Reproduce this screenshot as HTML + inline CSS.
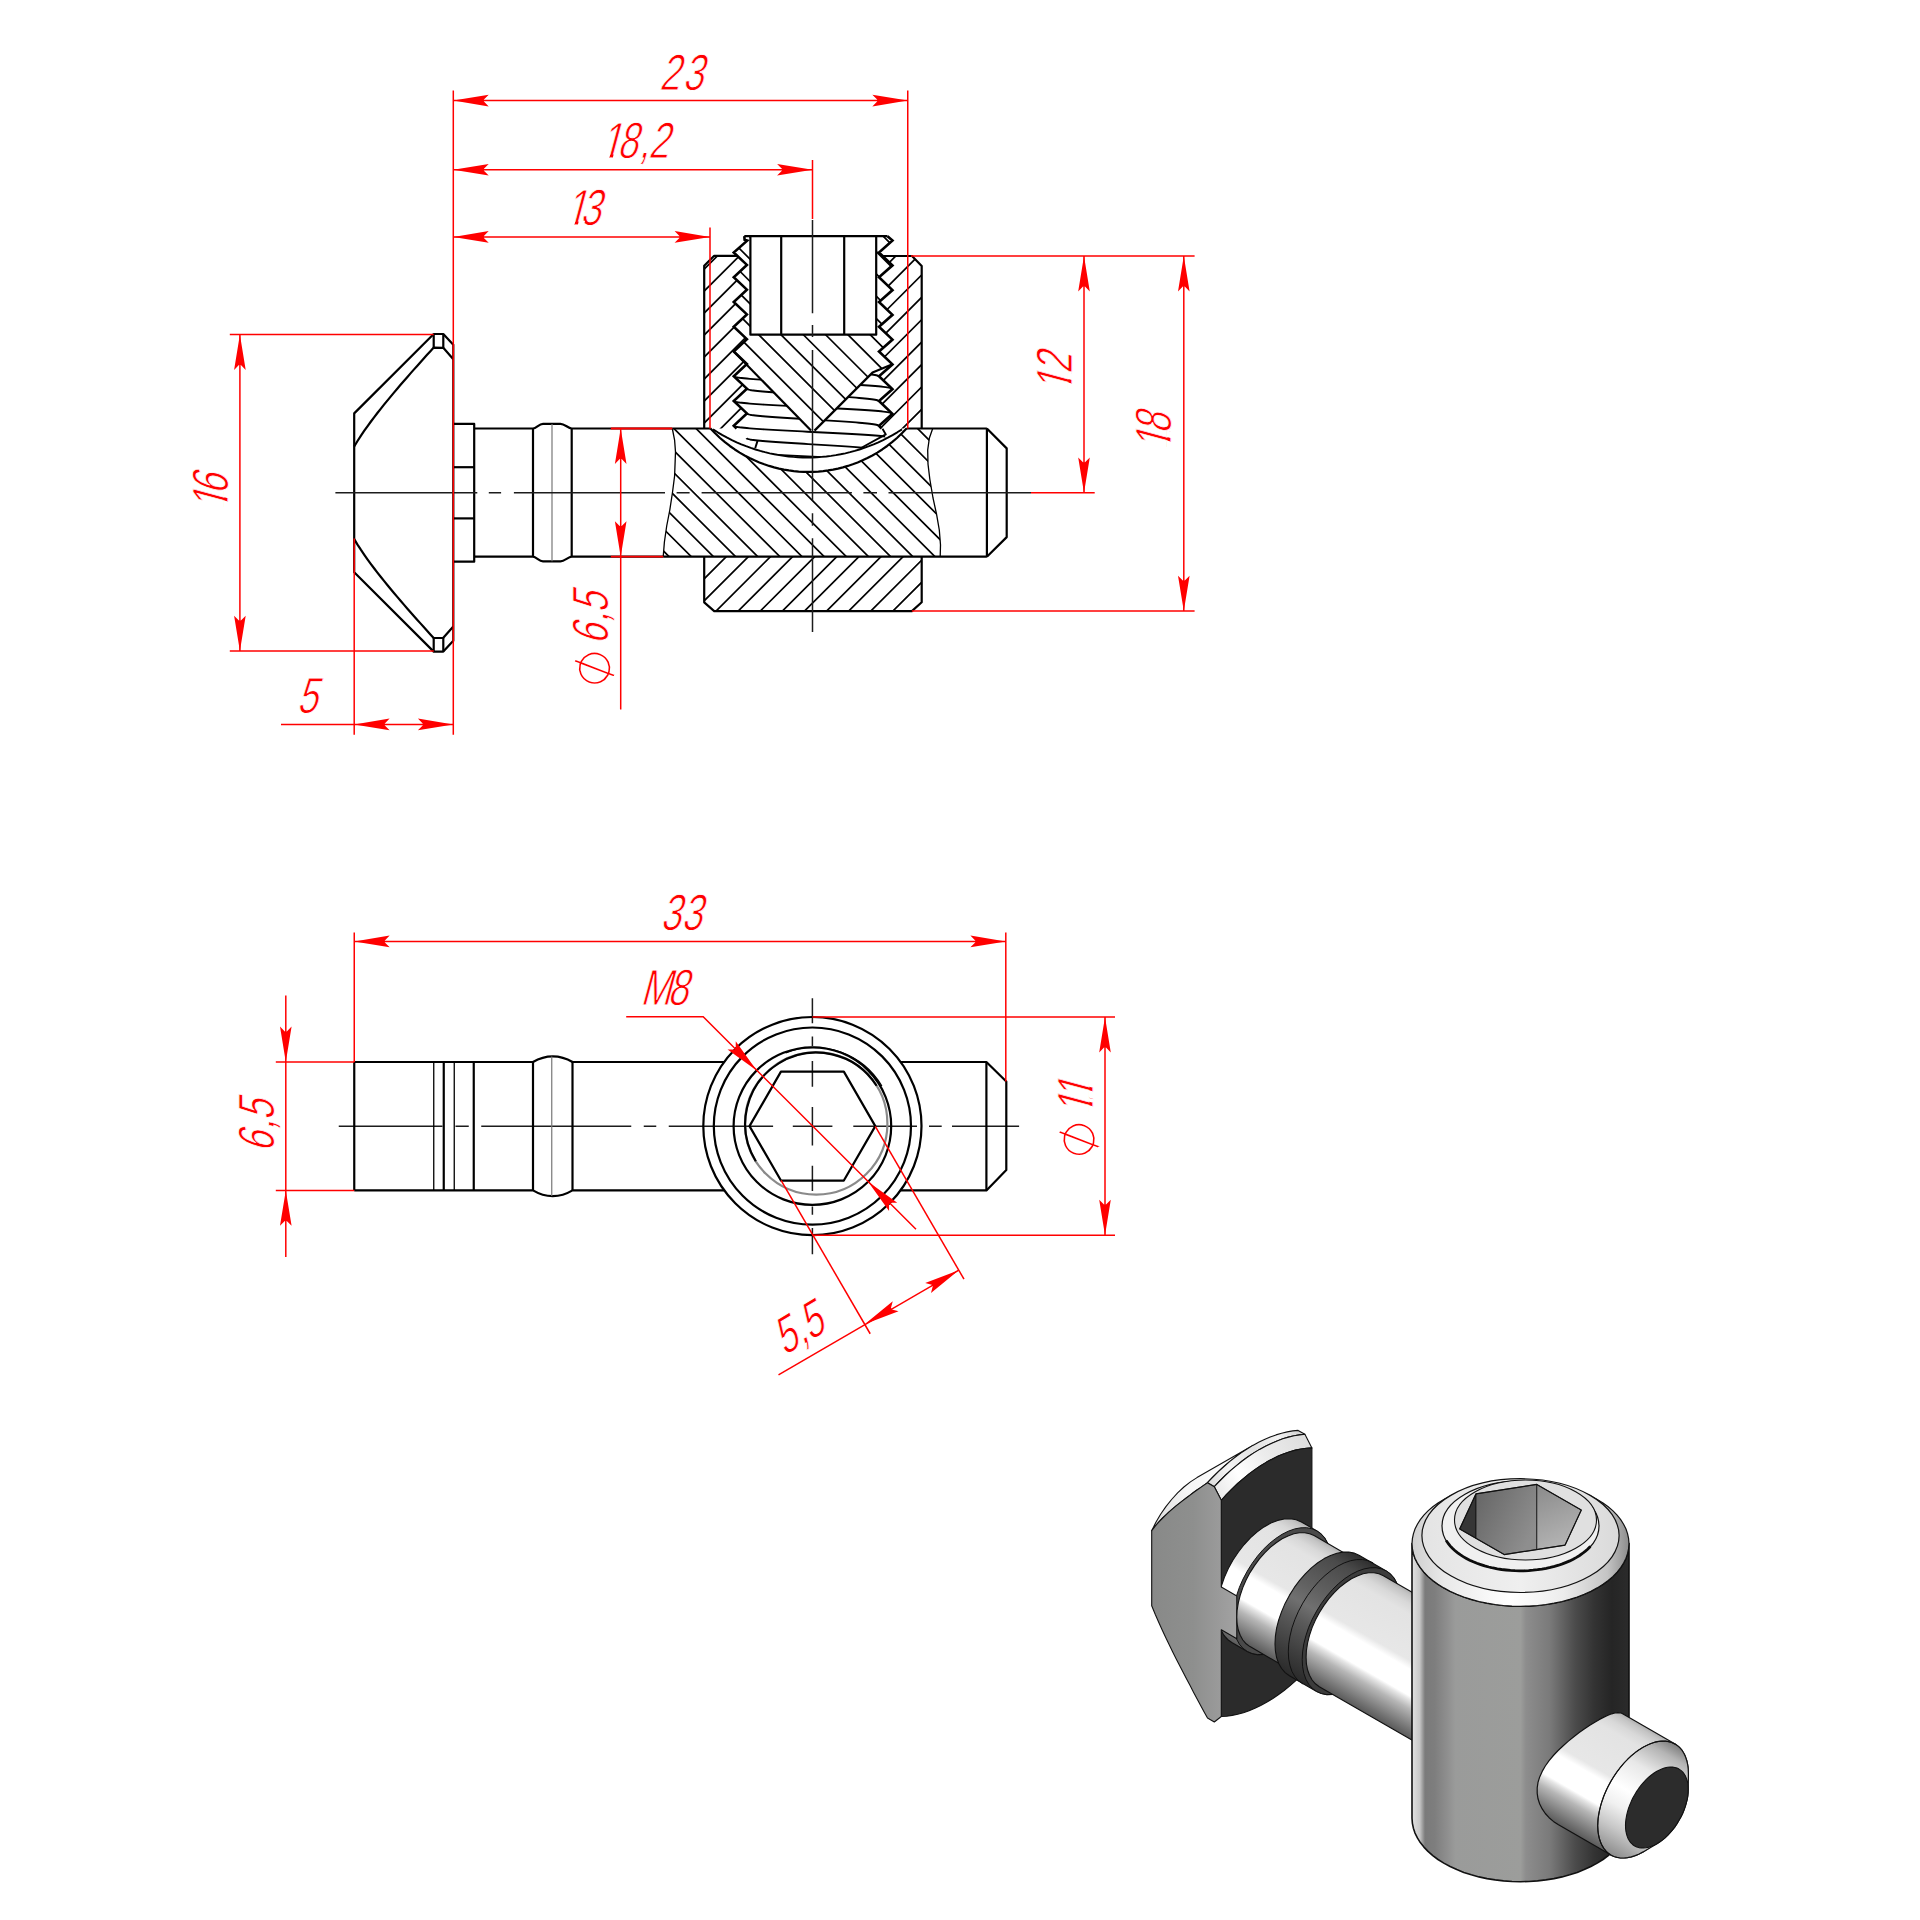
<!DOCTYPE html>
<html lang="en"><head><meta charset="utf-8"><title>Drawing</title>
<style>
html,body{margin:0;padding:0;background:#fff;overflow:hidden}
svg{display:block}
.k{fill:none;stroke:#000;stroke-width:2.2;stroke-linejoin:round;stroke-linecap:butt}
.k2{fill:none;stroke:#000;stroke-width:2.6;stroke-linejoin:miter}
.m{fill:none;stroke:#000;stroke-width:1.9;stroke-linejoin:round}
.h{fill:none;stroke:#000;stroke-width:1.7}
.t{fill:none;stroke:#000;stroke-width:1.3}
.c{fill:none;stroke:#1c1c1c;stroke-width:1.5}
.g{fill:none;stroke:#777;stroke-width:1.2}
.g2{fill:none;stroke:#8a8a8a;stroke-width:2.2}
.r{fill:none;stroke:#f00;stroke-width:1.5}
.r2{fill:none;stroke:#f00;stroke-width:1.8}
.ra{fill:#f00;stroke:none}
.tx{font-family:"Liberation Sans",sans-serif;font-size:51px;fill:#f00;stroke:#fff;stroke-width:0.9px;paint-order:fill stroke}
.ph{font-family:"DejaVu Sans",sans-serif;font-size:65px;fill:#f00;stroke:#fff;stroke-width:2.8px;paint-order:fill stroke}
</style></head>
<body>
<svg width="1920" height="1920" viewBox="0 0 1920 1920">
<defs>
<clipPath id="cSUL"><path d="M704.2 428.5 L704.2 265.7 L714.2 255.8 L737.25 255.8 L746.9 264.9 L733.75 277.25 L746.9 289.65 L733.75 302 L746.9 314.4 L733.75 326.75 L746.9 339.15 L733.75 351.5 L746.9 363.9 L733.75 376.25 L746.9 388.65 L733.75 401 L746.9 413.4 L733.75 425.75 L736.6 428.5Z"/></clipPath>
<clipPath id="cSUR"><path d="M921.7 428.5 L921.7 265.9 L912 256 L882.7 256 L892.5 265.35 L879 277.25 L892.5 290.1 L879 302 L892.5 314.85 L879 326.75 L892.5 339.6 L879 351.5 L892.5 364.35 L879 376.25 L892.5 389.1 L879 401 L892.5 413.85 L879 425.75 L881.6 428.5Z"/></clipPath>
<clipPath id="cSLO"><path d="M704.2 556.7 L704.2 602.3 L714.2 611.1 L911.9 611.1 L921.7 602.3 L921.7 556.7Z"/></clipPath>
<clipPath id="cSCR"><path d="M744.3 236.2 L887.5 236.2 L892.5 240.6 L879 252.5 L892.5 265.35 L879 277.25 L892.5 290.1 L879 302 L892.5 314.85 L879 326.75 L892.5 339.6 L879 351.5 L892.5 364.35 L872.5 372.6 L814.5 430.6 L811 430.6 L733.75 351.5 L746.9 339.15 L733.75 326.75 L746.9 314.4 L733.75 302 L746.9 289.65 L733.75 277.25 L746.9 264.9 L733.75 252.5 L747.2 240.6 L744.6 239.8ZM750.4 236.2 L876.2 236.2 L876.2 334.7 L750.4 334.7Z" clip-rule="evenodd"/></clipPath>
<clipPath id="cSH"><path d="M663.2 556.7 L664.4 542 L666.7 526 L669.8 510 L672.4 493 L674.6 476 L675.5 452 L674.6 440 L672.3 428.5 L710.2 428.5 L710.2 428.15 L715.12 433.32 L720.03 437.97 L724.95 442.18 L729.86 445.99 L734.78 449.45 L739.69 452.6 L744.61 455.45 L749.52 458.03 L754.44 460.35 L759.35 462.43 L764.26 464.29 L769.18 465.92 L774.1 467.35 L779.01 468.57 L783.92 469.6 L788.84 470.43 L793.75 471.08 L798.67 471.53 L803.59 471.81 L808.5 471.9 L813.41 471.81 L818.33 471.53 L823.25 471.08 L828.16 470.43 L833.08 469.6 L837.99 468.57 L842.9 467.35 L847.82 465.92 L852.74 464.29 L857.65 462.43 L862.56 460.35 L867.48 458.03 L872.39 455.45 L877.31 452.6 L882.22 449.45 L887.14 445.99 L892.05 442.18 L896.97 437.97 L901.88 433.32 L906.8 428.15 L906.8 428.5 L932.7 428.5 L929.4 438 L927.7 450 L928 464 L929.8 479 L933 498 L936.5 514 L939.3 530 L940.5 545 L940.2 556.7Z"/></clipPath>
<clipPath id="cWIN"><path d="M733.75 351.5 L746.9 363.9 L733.75 376.25 L746.9 388.65 L733.75 401 L746.9 413.4 L733.75 425.75 L734 428.5 L736 441.99 L739.75 443.65 L743.5 445.2 L747.25 446.64 L751 447.99 L754.75 449.24 L758.5 450.4 L762.25 451.46 L766 452.44 L769.75 453.32 L773.5 454.12 L777.25 454.83 L781 455.45 L784.75 455.99 L788.5 456.45 L792.25 456.82 L796 457.12 L799.75 457.33 L803.5 457.45 L807.25 457.5 L811 457.46 L814.75 457.35 L818.5 457.15 L822.25 456.87 L826 456.51 L829.75 456.06 L833.5 455.53 L837.25 454.92 L841 454.22 L844.75 453.43 L848.5 452.56 L852.25 451.6 L856 450.55 L859.75 449.4 L863.5 448.16 L867.25 446.83 L871 445.39 L874.75 443.86 L878.5 442.22 L882.25 440.47 L886 438.62 L881.6 428.5 L879 425.75 L892.5 413.85 L879 401 L892.5 389.1 L879 376.25 L892.5 364.35 L872.5 372.6 L814.5 430.6 L811 430.6Z"/></clipPath>
<clipPath id="cT1"><path clip-rule="evenodd" d="M-200 -120H600V60H-200ZM-10.78 -4.6H-0.05V1H-10.78ZM4.65 -4.6H13.75V1H4.65Z"/></clipPath>
<clipPath id="cT2"><path clip-rule="evenodd" d="M-200 -120H600V60H-200ZM-10.78 -4.6H-0.05V1H-10.78ZM4.65 -4.6H13.27V1H4.65Z"/></clipPath>
<clipPath id="cT3"><path clip-rule="evenodd" d="M-200 -120H600V60H-200ZM-10.78 -4.6H-0.05V1H-10.78ZM4.65 -4.6H14.22V1H4.65Z"/></clipPath>
<clipPath id="cT4"><path clip-rule="evenodd" d="M-200 -120H600V60H-200ZM-10.78 -4.6H-0.05V1H-10.78ZM4.65 -4.6H14.22V1H4.65Z"/></clipPath>
<clipPath id="cT5"><path clip-rule="evenodd" d="M-200 -120H600V60H-200ZM-10.78 -4.6H-0.05V1H-10.78ZM4.65 -4.6H13.75V1H4.65Z"/></clipPath>
<clipPath id="cT6"><path clip-rule="evenodd" d="M-200 -120H600V60H-200ZM-10.78 -4.6H-0.05V1H-10.78ZM4.65 -4.6H10.4V1H4.65ZM10.06 -4.6H20.78V1H10.06ZM25.49 -4.6H35.06V1H25.49Z"/></clipPath>
<linearGradient id="gSl" gradientUnits="userSpaceOnUse" x1="1151.7" y1="1531.2" x2="1252.8" y2="1445.4"><stop offset="0" stop-color="#d8d8d8"/><stop offset="0.400" stop-color="#f6f6f6"/><stop offset="1" stop-color="#ffffff"/></linearGradient>
<linearGradient id="gBd" gradientUnits="userSpaceOnUse" x1="1207.5" y1="1482.9" x2="1298.1" y2="1430.5"><stop offset="0" stop-color="#dcdcdc"/><stop offset="0.250" stop-color="#f4f4f4"/><stop offset="0.550" stop-color="#e2e2e2"/><stop offset="0.800" stop-color="#f2f2f2"/><stop offset="1" stop-color="#d4d4d4"/></linearGradient>
<linearGradient id="gCh" gradientUnits="userSpaceOnUse" x1="1207.5" y1="1482.9" x2="1298.1" y2="1430.5"><stop offset="0" stop-color="#e8e8e8"/><stop offset="0.300" stop-color="#ffffff"/><stop offset="0.600" stop-color="#ececec"/><stop offset="1" stop-color="#dedede"/></linearGradient>
<linearGradient id="gGr" gradientUnits="userSpaceOnUse" x1="1151" y1="1600" x2="1236" y2="1600"><stop offset="0" stop-color="#888988"/><stop offset="0.500" stop-color="#8e8f8e"/><stop offset="0.850" stop-color="#9c9c9c"/><stop offset="1" stop-color="#a2a2a2"/></linearGradient>
<linearGradient id="gCo" gradientUnits="userSpaceOnUse" x1="1316.9" y1="1530.9" x2="1247.3" y2="1651.4"><stop offset="0" stop-color="#b0b0b0"/><stop offset="0.030" stop-color="#c4c4c4"/><stop offset="0.090" stop-color="#d8d8d8"/><stop offset="0.160" stop-color="#e3e3e3"/><stop offset="0.470" stop-color="#e7e7e7"/><stop offset="0.530" stop-color="#ffffff"/><stop offset="0.710" stop-color="#ffffff"/><stop offset="0.735" stop-color="#e6e6e6"/><stop offset="0.800" stop-color="#b6b6b6"/><stop offset="0.870" stop-color="#949494"/><stop offset="0.940" stop-color="#747474"/><stop offset="1" stop-color="#5a5a5a"/></linearGradient>
<linearGradient id="gN" gradientUnits="userSpaceOnUse" x1="1356.2" y1="1560" x2="1292.1" y2="1671"><stop offset="0" stop-color="#b0b0b0"/><stop offset="0.030" stop-color="#c4c4c4"/><stop offset="0.090" stop-color="#d8d8d8"/><stop offset="0.160" stop-color="#e3e3e3"/><stop offset="0.470" stop-color="#e7e7e7"/><stop offset="0.530" stop-color="#ffffff"/><stop offset="0.710" stop-color="#ffffff"/><stop offset="0.735" stop-color="#e6e6e6"/><stop offset="0.800" stop-color="#b6b6b6"/><stop offset="0.870" stop-color="#949494"/><stop offset="0.940" stop-color="#747474"/><stop offset="1" stop-color="#5a5a5a"/></linearGradient>
<linearGradient id="gRg" gradientUnits="userSpaceOnUse" x1="1386.2" y1="1570.9" x2="1316.6" y2="1691.4"><stop offset="0" stop-color="#2e2e2e"/><stop offset="0.120" stop-color="#4a4a4a"/><stop offset="0.380" stop-color="#626262"/><stop offset="0.500" stop-color="#707070"/><stop offset="0.620" stop-color="#5a5a5a"/><stop offset="0.850" stop-color="#3c3c3c"/><stop offset="1" stop-color="#2a2a2a"/></linearGradient>
<linearGradient id="gS" gradientUnits="userSpaceOnUse" x1="1496.8" y1="1641.1" x2="1432.7" y2="1752.1"><stop offset="0" stop-color="#b0b0b0"/><stop offset="0.030" stop-color="#c4c4c4"/><stop offset="0.090" stop-color="#d8d8d8"/><stop offset="0.160" stop-color="#e3e3e3"/><stop offset="0.470" stop-color="#e7e7e7"/><stop offset="0.530" stop-color="#ffffff"/><stop offset="0.710" stop-color="#ffffff"/><stop offset="0.735" stop-color="#e6e6e6"/><stop offset="0.800" stop-color="#b6b6b6"/><stop offset="0.870" stop-color="#949494"/><stop offset="0.940" stop-color="#747474"/><stop offset="1" stop-color="#5a5a5a"/></linearGradient>
<linearGradient id="gSlv" gradientUnits="userSpaceOnUse" x1="1412" y1="0" x2="1629" y2="0"><stop offset="0" stop-color="#e2e2e2"/><stop offset="0.035" stop-color="#c8c8c8"/><stop offset="0.06" stop-color="#7a7a7a"/><stop offset="0.105" stop-color="#7e7e7e"/><stop offset="0.16" stop-color="#8e8e8e"/><stop offset="0.2" stop-color="#9a9b9a"/><stop offset="0.5" stop-color="#9c9d9b"/><stop offset="0.525" stop-color="#8d8d8d"/><stop offset="0.635" stop-color="#7a7a7a"/><stop offset="0.75" stop-color="#4c4c4c"/><stop offset="0.84" stop-color="#333333"/><stop offset="0.92" stop-color="#252525"/><stop offset="1" stop-color="#2b2b2b"/></linearGradient>
<linearGradient id="gChS" gradientUnits="userSpaceOnUse" x1="1412" y1="0" x2="1629" y2="0"><stop offset="0" stop-color="#cfcfcf"/><stop offset="0.15" stop-color="#e9e9e9"/><stop offset="0.45" stop-color="#ffffff"/><stop offset="0.7" stop-color="#ececec"/><stop offset="0.9" stop-color="#c4c4c4"/><stop offset="1" stop-color="#8c8c8c"/></linearGradient>
<linearGradient id="gTop" gradientUnits="userSpaceOnUse" x1="1421.9" y1="0" x2="1619.1" y2="0"><stop offset="0" stop-color="#e4e4e4"/><stop offset="0.5" stop-color="#efefef"/><stop offset="1" stop-color="#dadada"/></linearGradient>
<linearGradient id="gH1" gradientUnits="userSpaceOnUse" x1="1476" y1="1493.8" x2="1536.8" y2="1524.4"><stop offset="0" stop-color="#666666"/><stop offset="1" stop-color="#8e8e8e"/></linearGradient>
<linearGradient id="gH2" gradientUnits="userSpaceOnUse" x1="1536.8" y1="1484.4" x2="1565" y2="1545.2"><stop offset="0" stop-color="#8a8a8a"/><stop offset="1" stop-color="#b4b4b4"/></linearGradient>
<linearGradient id="gSt" gradientUnits="userSpaceOnUse" x1="1675.1" y1="1744.1" x2="1611" y2="1855.1"><stop offset="0" stop-color="#b0b0b0"/><stop offset="0.030" stop-color="#c4c4c4"/><stop offset="0.090" stop-color="#d8d8d8"/><stop offset="0.160" stop-color="#e3e3e3"/><stop offset="0.470" stop-color="#e7e7e7"/><stop offset="0.530" stop-color="#ffffff"/><stop offset="0.710" stop-color="#ffffff"/><stop offset="0.735" stop-color="#e6e6e6"/><stop offset="0.800" stop-color="#b6b6b6"/><stop offset="0.870" stop-color="#949494"/><stop offset="0.940" stop-color="#747474"/><stop offset="1" stop-color="#5a5a5a"/></linearGradient>
<linearGradient id="gCn" gradientUnits="userSpaceOnUse" x1="1675.1" y1="1744.1" x2="1611" y2="1855.1"><stop offset="0" stop-color="#7e7e7e"/><stop offset="0.100" stop-color="#b4b4b4"/><stop offset="0.280" stop-color="#e8e8e8"/><stop offset="0.500" stop-color="#ffffff"/><stop offset="0.640" stop-color="#f0f0f0"/><stop offset="0.800" stop-color="#c8c8c8"/><stop offset="1" stop-color="#8c8c8c"/></linearGradient>
</defs>
<rect width="1920" height="1920" fill="#fff"/>
<g id="iso">
<path d="M1197 1477.6L1252.8 1445.4L1252.8 1445.4L1248.1 1448.2L1243.5 1451.3L1238.8 1454.5L1234.2 1458L1229.6 1461.6L1225.1 1465.5L1220.6 1469.5L1216.2 1473.7L1211.8 1478.1L1207.5 1482.7L1207.5 1482.7L1204 1485.1L1200.5 1487.6L1197 1490L1193.5 1492.5L1190.1 1495.1L1186.6 1497.7L1183.1 1500.4L1179.6 1503.1L1176.1 1505.9L1172.6 1508.8L1169.1 1511.9L1165.7 1515.1L1162.2 1518.5L1158.7 1522.1L1155.2 1526.1L1151.7 1530.7L1151.7 1530.7L1155.9 1522.3L1160.6 1514.3L1165.9 1506.6L1171.6 1499.5L1177.6 1492.9L1183.9 1487L1190.4 1481.9L1197 1477.6Z" fill="url(#gSl)" stroke="#111" stroke-width="1.1" stroke-linejoin="round"/>
<path d="M1298.1 1430.4L1292.7 1430.9L1287.2 1431.9L1281.6 1433.2L1276 1434.9L1270.2 1437L1264.4 1439.4L1258.6 1442.2L1252.8 1445.4L1247 1449L1241.1 1452.9L1235.4 1457.1L1229.6 1461.6L1224 1466.5L1218.4 1471.6L1212.9 1477L1207.5 1482.7L1214.3 1486.7L1219.7 1481L1225.2 1475.5L1230.8 1470.4L1236.5 1465.6L1242.2 1461L1248 1456.8L1253.8 1452.9L1259.6 1449.4L1265.5 1446.2L1271.3 1443.4L1277.1 1440.9L1282.8 1438.8L1288.5 1437.1L1294.1 1435.8L1299.6 1434.9L1304.9 1434.3Z" fill="url(#gBd)" stroke="#111" stroke-width="1.1" stroke-linejoin="round"/>
<path d="M1304.9 1434.3L1299.6 1434.9L1294.1 1435.8L1288.5 1437.1L1282.8 1438.8L1277.1 1440.9L1271.3 1443.4L1265.5 1446.2L1259.6 1449.4L1253.8 1452.9L1248 1456.8L1242.2 1461L1236.5 1465.6L1230.8 1470.4L1225.2 1475.5L1219.7 1481L1214.3 1486.7L1221.3 1500.3L1226.6 1494.4L1232.1 1488.8L1237.7 1483.5L1243.4 1478.6L1249.1 1473.9L1254.9 1469.6L1260.7 1465.7L1266.6 1462.1L1272.5 1458.9L1278.3 1456.1L1284.1 1453.7L1289.8 1451.7L1295.5 1450.1L1301.1 1449L1306.6 1448.2L1311.9 1447.9Z" fill="url(#gCh)" stroke="#111" stroke-width="1.1" stroke-linejoin="round"/>
<path d="M1311.9 1447.9L1306.6 1448.2L1301.1 1449L1295.5 1450.1L1289.8 1451.7L1284.1 1453.7L1278.3 1456.1L1272.5 1458.9L1266.6 1462.1L1260.7 1465.7L1254.9 1469.6L1249.1 1473.9L1243.4 1478.6L1237.7 1483.5L1232.1 1488.8L1226.6 1494.4L1221.3 1500.3L1221.3 1716.5L1226.6 1716.2L1232.1 1715.4L1237.7 1714.3L1243.4 1712.7L1249.1 1710.7L1254.9 1708.3L1260.7 1705.5L1266.6 1702.3L1272.5 1698.7L1278.3 1694.8L1284.1 1690.5L1289.8 1685.9L1295.5 1680.9L1301.1 1675.6L1306.6 1670L1311.9 1664.2Z" fill="#2b2b2b" stroke="#111" stroke-width="1.1" stroke-linejoin="round"/>
<path d="M1301.4 1521.9L1316.9 1530.9L1321.1 1534L1324.7 1538.1L1327.5 1543.1L1329.6 1549L1330.9 1555.6L1331.3 1562.7L1330.9 1570.4L1329.6 1578.4L1327.5 1586.6L1324.7 1595L1321.1 1603.2L1316.9 1611.2L1312 1618.9L1306.7 1626.2L1300.9 1632.8L1294.8 1638.7L1288.5 1643.8L1282.1 1648L1275.7 1651.2L1269.3 1653.4L1263.2 1654.5L1257.5 1654.6L1252.1 1653.5L1247.3 1651.4L1231.8 1642.5L1228.6 1640.3L1225.8 1637.5L1223.3 1634.3L1221.3 1630.6L1221.3 1586.2L1224.4 1577.3L1228.3 1568.6L1233 1560L1238.4 1552L1244.2 1544.5L1250.6 1537.7L1257.2 1531.9L1264 1526.9L1270.9 1523.1L1277.7 1520.4L1284.2 1519L1290.5 1518.7L1296.2 1519.7L1301.4 1521.9Z" fill="url(#gCo)" stroke="#111" stroke-width="1.1" stroke-linejoin="round"/>
<path d="M1331.3 1562.7L1330.9 1555.6L1329.6 1549L1327.5 1543.1L1324.7 1538.1L1321.1 1534L1316.9 1530.9L1312 1528.8L1306.7 1527.7L1300.9 1527.8L1294.8 1528.9L1288.5 1531.1L1282.1 1534.3L1275.7 1538.5L1269.3 1543.6L1263.2 1549.5L1257.5 1556.1L1252.1 1563.4L1247.3 1571.1L1243 1579.1L1239.4 1587.3L1236.6 1595.6L1234.5 1603.9L1233.3 1611.9L1232.9 1619.6L1233.3 1626.7L1234.5 1633.3L1236.6 1639.1L1239.4 1644.2L1243 1648.3L1247.3 1651.4L1252.1 1653.5L1257.5 1654.6L1263.2 1654.5L1269.3 1653.4L1275.7 1651.2L1282.1 1648L1288.5 1643.8L1294.8 1638.7L1300.9 1632.8L1306.7 1626.2L1312 1618.9L1316.9 1611.2L1321.1 1603.2L1324.7 1595L1327.5 1586.6L1329.6 1578.4L1330.9 1570.4L1331.3 1562.7Z" fill="#4a4a4a" stroke="#111" stroke-width="1.0" stroke-linejoin="round"/>
<path d="M1151.7 1605.7L1151.7 1530.7L1155.2 1526.1L1158.7 1522.1L1162.2 1518.5L1165.7 1515.1L1169.1 1511.9L1172.6 1508.8L1176.1 1505.9L1179.6 1503.1L1183.1 1500.4L1186.6 1497.7L1190.1 1495.1L1193.5 1492.5L1197 1490L1200.5 1487.6L1204 1485.1L1207.5 1482.7L1214.3 1486.7L1221.3 1500.3L1221.3 1587L1236.8 1595.9L1236.8 1638.7L1221.3 1629.8L1221.3 1716.5L1214.3 1722L1207.5 1718.1L1204 1711.7L1200.5 1705.2L1197 1698.7L1193.5 1692.2L1190.1 1685.6L1186.6 1679L1183.1 1672.3L1179.6 1665.5L1176.1 1658.7L1172.6 1651.7L1169.1 1644.6L1165.7 1637.4L1162.2 1630L1158.7 1622.3L1155.2 1614.3L1151.7 1605.7Z" fill="url(#gGr)" stroke="#111" stroke-width="1.1" stroke-linejoin="round"/>
<path d="M1314.1 1535.6L1356.2 1560L1360.1 1562.8L1363.4 1566.6L1366 1571.3L1368 1576.6L1369.1 1582.7L1369.5 1589.3L1369.1 1596.3L1368 1603.7L1366 1611.3L1363.4 1619L1360.1 1626.6L1356.2 1634L1351.8 1641L1346.8 1647.7L1341.5 1653.8L1335.9 1659.2L1330.1 1663.9L1324.2 1667.8L1318.3 1670.7L1312.5 1672.8L1306.8 1673.8L1301.5 1673.9L1296.6 1672.9L1292.1 1671L1250 1646.6L1246.1 1643.8L1242.8 1640L1240.2 1635.3L1238.3 1630L1237.1 1623.9L1236.8 1617.3L1237.1 1610.3L1238.3 1602.9L1240.2 1595.3L1242.8 1587.6L1246.1 1580L1250 1572.6L1254.5 1565.6L1259.4 1558.9L1264.7 1552.8L1270.3 1547.4L1276.2 1542.7L1282.1 1538.8L1288 1535.9L1293.8 1533.8L1299.4 1532.8L1304.7 1532.7L1309.7 1533.7L1314.1 1535.6Z" fill="url(#gN)" stroke="#111" stroke-width="1.1" stroke-linejoin="round"/>
<path d="M1359 1555.2L1386.2 1570.9L1390.4 1574L1394 1578.1L1396.8 1583.2L1398.9 1589L1400.2 1595.6L1400.6 1602.7L1400.2 1610.4L1398.9 1618.4L1396.8 1626.6L1394 1635L1390.4 1643.2L1386.2 1651.2L1381.3 1658.9L1376 1666.2L1370.2 1672.8L1364.1 1678.7L1357.8 1683.8L1351.4 1688L1344.9 1691.2L1338.6 1693.4L1332.5 1694.5L1326.8 1694.6L1321.4 1693.5L1316.6 1691.4L1289.4 1675.7L1285.1 1672.6L1281.6 1668.5L1278.7 1663.5L1276.6 1657.6L1275.4 1651L1275 1643.9L1275.4 1636.2L1276.6 1628.2L1278.7 1620L1281.6 1611.6L1285.1 1603.4L1289.4 1595.4L1294.2 1587.7L1299.6 1580.4L1305.3 1573.8L1311.4 1567.9L1317.8 1562.8L1324.2 1558.6L1330.6 1555.4L1336.9 1553.2L1343 1552.1L1348.8 1552L1354.1 1553.1L1359 1555.2Z" fill="url(#gRg)" stroke="#111" stroke-width="1.1" stroke-linejoin="round"/>
<path d="M1400.6 1602.7L1400.2 1595.6L1398.9 1589L1396.8 1583.2L1394 1578.1L1390.4 1574L1386.2 1570.9L1381.3 1568.8L1376 1567.7L1370.2 1567.8L1364.1 1568.9L1357.8 1571.1L1351.4 1574.3L1344.9 1578.5L1338.6 1583.6L1332.5 1589.5L1326.8 1596.1L1321.4 1603.4L1316.6 1611.1L1312.3 1619.1L1308.7 1627.3L1305.9 1635.7L1303.8 1643.9L1302.6 1651.9L1302.2 1659.6L1302.6 1666.7L1303.8 1673.3L1305.9 1679.2L1308.7 1684.2L1312.3 1688.3L1316.6 1691.4L1321.4 1693.5L1326.8 1694.6L1332.5 1694.5L1338.6 1693.4L1344.9 1691.2L1351.4 1688L1357.8 1683.8L1364.1 1678.7L1370.2 1672.8L1376 1666.2L1381.3 1658.9L1386.2 1651.2L1390.4 1643.2L1394 1635L1396.8 1626.6L1398.9 1618.4L1400.2 1610.4L1400.6 1602.7Z" fill="#3c3c3c" stroke="#111" stroke-width="1.0" stroke-linejoin="round"/>
<path d="M1372.8 1562.7L1367.9 1560.6L1362.5 1559.5L1356.7 1559.6L1350.6 1560.7L1344.2 1562.9L1337.8 1566.1L1331.3 1570.4L1325 1575.5L1318.8 1581.4L1313 1588.1L1307.6 1595.4L1302.8 1603.1L1298.5 1611.2L1294.9 1619.5L1292 1627.8L1290 1636.1L1288.7 1644.2L1288.3 1651.9L1288.7 1659.1L1290 1665.7L1292 1671.6L1294.9 1676.6L1298.5 1680.8L1302.8 1683.9" fill="none" stroke="#111" stroke-width="1.0" stroke-linejoin="round" stroke-linecap="round"/>
<path d="M1383.4 1575.7L1496.8 1641.1L1500.7 1644L1504 1647.8L1506.6 1652.4L1508.5 1657.8L1509.7 1663.8L1510 1670.4L1509.7 1677.5L1508.5 1684.9L1506.6 1692.5L1504 1700.1L1500.7 1707.7L1496.8 1715.1L1492.3 1722.2L1487.4 1728.8L1482.1 1734.9L1476.5 1740.4L1470.6 1745.1L1464.7 1748.9L1458.8 1751.9L1453 1753.9L1447.4 1755L1442.1 1755L1437.1 1754L1432.7 1752.1L1319.3 1686.7L1315.4 1683.8L1312.1 1680L1309.5 1675.3L1307.6 1670L1306.4 1663.9L1306.1 1657.3L1306.4 1650.3L1307.6 1642.9L1309.5 1635.3L1312.1 1627.6L1315.4 1620.1L1319.3 1612.7L1323.8 1605.6L1328.7 1598.9L1334 1592.8L1339.6 1587.4L1345.5 1582.7L1351.4 1578.8L1357.3 1575.9L1363.1 1573.8L1368.7 1572.8L1374 1572.8L1379 1573.7L1383.4 1575.7Z" fill="url(#gS)" stroke="#111" stroke-width="1.1" stroke-linejoin="round"/>
<path d="M1412 1543.6L1412 1818.3L1412.4 1823.3L1413.4 1828.2L1415 1833.1L1417.4 1837.9L1420.3 1842.6L1423.9 1847.1L1428 1851.4L1432.8 1855.6L1438 1859.5L1443.8 1863.1L1450.1 1866.5L1456.8 1869.6L1463.8 1872.4L1471.3 1874.8L1479 1876.9L1487 1878.6L1495.2 1879.9L1503.5 1880.9L1512 1881.5L1520.5 1881.7L1529 1881.5L1537.5 1880.9L1545.8 1879.9L1554 1878.6L1562 1876.9L1569.7 1874.8L1577.2 1872.4L1584.2 1869.6L1590.9 1866.5L1597.2 1863.1L1603 1859.5L1608.2 1855.6L1613 1851.4L1617.1 1847.1L1620.7 1842.6L1623.6 1837.9L1626 1833.1L1627.6 1828.2L1628.6 1823.3L1629 1818.3L1629 1543.6L1629 1543.6L1628.6 1548.6L1627.6 1553.4L1626 1558.3L1623.6 1563L1620.7 1567.6L1617.1 1572.1L1613 1576.4L1608.2 1580.5L1603 1584.3L1597.2 1587.9L1590.9 1591.3L1584.2 1594.3L1577.2 1597L1569.7 1599.4L1562 1601.5L1554 1603.2L1545.8 1604.5L1537.5 1605.5L1529 1606.1L1520.5 1606.3L1512 1606.1L1503.5 1605.5L1495.2 1604.5L1487 1603.2L1479 1601.5L1471.3 1599.4L1463.8 1597L1456.8 1594.3L1450.1 1591.3L1443.8 1587.9L1438 1584.3L1432.8 1580.5L1428 1576.4L1423.9 1572.1L1420.3 1567.6L1417.4 1563L1415 1558.3L1413.4 1553.4L1412.4 1548.6L1412 1543.6Z" fill="url(#gSlv)" stroke="#111" stroke-width="1.6" stroke-linejoin="round"/>
<path d="M1629 1543.6L1628.6 1548.6L1627.6 1553.4L1626 1558.3L1623.6 1563L1620.7 1567.6L1617.1 1572.1L1613 1576.4L1608.2 1580.5L1603 1584.3L1597.2 1587.9L1590.9 1591.3L1584.2 1594.3L1577.2 1597L1569.7 1599.4L1562 1601.5L1554 1603.2L1545.8 1604.5L1537.5 1605.5L1529 1606.1L1520.5 1606.3L1512 1606.1L1503.5 1605.5L1495.2 1604.5L1487 1603.2L1479 1601.5L1471.3 1599.4L1463.8 1597L1456.8 1594.3L1450.1 1591.3L1443.8 1587.9L1438 1584.3L1432.8 1580.5L1428 1576.4L1423.9 1572.1L1420.3 1567.6L1417.4 1563L1415 1558.3L1413.4 1553.4L1412.4 1548.6L1412 1543.6L1412.4 1538.7L1413.4 1533.9L1415 1529L1417.4 1524.3L1420.3 1519.7L1423.9 1515.2L1428 1510.9L1432.8 1506.8L1438 1503L1443.8 1499.4L1450.1 1496L1456.8 1493L1463.8 1490.3L1471.3 1487.9L1479 1485.8L1487 1484.1L1495.2 1482.8L1503.5 1481.8L1512 1481.2L1520.5 1481L1529 1481.2L1537.5 1481.8L1545.8 1482.8L1554 1484.1L1562 1485.8L1569.7 1487.9L1577.2 1490.3L1584.2 1493L1590.9 1496L1597.2 1499.4L1603 1503L1608.2 1506.8L1613 1510.9L1617.1 1515.2L1620.7 1519.7L1623.6 1524.3L1626 1529L1627.6 1533.9L1628.6 1538.7L1629 1543.6Z" fill="url(#gChS)" stroke="#111" stroke-width="1.2"/>
<ellipse cx="1520.5" cy="1535.6" rx="98.6" ry="56.9" fill="url(#gTop)" stroke="#111" stroke-width="1.2"/>
<ellipse cx="1520.5" cy="1526" rx="78.5" ry="44.8" fill="#f0f0f0" stroke="#111" stroke-width="1.2"/>
<path d="M1589.8 1547L1587.6 1549.3L1585.1 1551.4L1582.4 1553.5L1579.6 1555.5L1576.5 1557.4L1573.2 1559.2L1569.8 1560.9L1566.2 1562.4L1562.4 1563.9L1558.6 1565.2L1554.5 1566.4L1550.4 1567.4L1546.2 1568.3L1541.9 1569.1L1537.5 1569.7L1533.1 1570.2L1528.6 1570.6L1524.1 1570.8L1519.5 1570.8L1515 1570.7L1510.5 1570.4L1506.1 1570L1501.6 1569.5L1497.3 1568.8L1493 1568L1488.8 1567L1484.7 1565.9L1480.8 1564.6L1476.9 1563.3L1473.3 1561.8L1469.7 1560.2L1466.4 1558.4L1463.2 1556.6L1460.2 1554.7L1457.4 1552.6L1454.8 1550.5L1452.4 1548.3L1450.3 1546.1L1448.4 1543.7L1446.7 1541.3" fill="none" stroke="#0c0c0c" stroke-width="2.8" stroke-linecap="round"/>
<ellipse cx="1525.5" cy="1520" rx="71" ry="40" fill="#e0e0e0" stroke="#111" stroke-width="1.1"/>
<path d="M1459.7 1528.9L1476 1493.8L1476 1538.3Z" fill="#363636" stroke="#111" stroke-width="0.8" stroke-linejoin="round"/>
<path d="M1476 1493.8L1536.8 1484.4L1536.8 1549.5L1504.2 1554.6L1476 1538.3Z" fill="url(#gH1)" stroke="#111" stroke-width="0.8" stroke-linejoin="round"/>
<path d="M1536.8 1484.4L1581.3 1510.1L1565 1545.2L1536.8 1549.5Z" fill="url(#gH2)" stroke="#111" stroke-width="0.8" stroke-linejoin="round"/>
<path d="M1565 1545.2L1581.3 1510.1L1536.8 1484.4L1476 1493.8L1459.7 1528.9L1504.2 1554.6Z" fill="none" stroke="#111" stroke-width="1.2" stroke-linejoin="round" stroke-linecap="round"/>
<path d="M1622.2 1713.5L1620.2 1712.8L1617.8 1712.6L1614.9 1713L1611.7 1713.8L1608 1715.2L1603.9 1717.1L1599.5 1719.4L1594.8 1722.2L1589.8 1725.3L1584.6 1728.8L1579.2 1732.6L1573.8 1736.7L1568.4 1741.1L1563.2 1745.7L1558.1 1750.5L1553.4 1755.5L1549.1 1760.7L1545.3 1766L1542.2 1771.4L1539.7 1776.9L1538 1782.4L1537.2 1787.9L1537.2 1793.4L1538 1798.8L1539.7 1804L1542.2 1808.9L1545.3 1813.5L1549.1 1817.7L1553.4 1821.4L1558.1 1824.5L1611 1855.1L1615.5 1857L1620.4 1858L1625.7 1857.9L1631.3 1856.9L1637.1 1854.9L1643.1 1851.9L1649 1848L1654.8 1843.3L1660.4 1837.9L1665.7 1831.8L1670.6 1825.1L1675.1 1818.1L1679 1810.7L1682.3 1803.1L1684.9 1795.4L1686.8 1787.8L1688 1780.5L1688.4 1773.4L1688 1766.8L1686.8 1760.7L1684.9 1755.4L1682.3 1750.7L1679 1746.9L1675.1 1744.1Z" fill="url(#gSt)" stroke="#111" stroke-width="1.2" stroke-linejoin="round"/>
<path d="M1597.7 1825.7L1597.9 1821.1L1598.4 1816.2L1599.3 1811.3L1600.5 1806.2L1602 1801.2L1603.8 1796L1605.9 1791L1608.3 1786L1611 1781.1L1613.9 1776.3L1617.1 1771.7L1620.4 1767.3L1623.9 1763.2L1627.6 1759.3L1631.3 1755.8L1635.2 1752.6L1639.1 1749.7L1643.1 1747.2L1647 1745.2L1650.9 1743.5L1654.8 1742.2L1658.6 1741.4L1662.2 1741.1L1665.7 1741.2L1669 1741.7L1672.2 1742.7L1675.1 1744.1L1677.8 1745.9L1680.2 1748.1L1682.3 1750.7L1684.1 1753.7L1685.6 1757.1L1686.8 1760.8L1687.7 1764.7L1688.2 1768.9L1688.4 1773.4L1688.2 1789.4L1688.1 1792.6L1687.8 1796L1687.2 1799.4L1686.3 1802.9L1685.3 1806.4L1684 1810L1682.6 1813.5L1680.9 1816.9L1679 1820.3L1677 1823.6L1674.9 1826.8L1672.5 1829.8L1670.1 1832.7L1667.6 1835.4L1665 1837.8L1662.3 1840.1L1659.6 1842L1656.9 1843.8L1643.1 1851.9L1639.1 1854L1635.2 1855.6L1631.3 1856.9L1627.6 1857.7L1623.9 1858L1620.4 1858L1617.1 1857.4L1613.9 1856.5L1611 1855.1L1608.3 1853.2L1605.9 1851L1603.8 1848.4L1602 1845.4L1600.5 1842L1599.3 1838.4L1598.4 1834.4L1597.9 1830.2Z" fill="url(#gCn)" stroke="#111" stroke-width="1.2" stroke-linejoin="round"/>
<path d="M1675.1 1744.1L1670.6 1742.1L1665.7 1741.2L1660.4 1741.2L1654.8 1742.2L1649 1744.3L1643.1 1747.2L1637.1 1751.1L1631.3 1755.8L1625.7 1761.2L1620.4 1767.3L1615.5 1774L1611 1781.1L1607.1 1788.5L1603.8 1796.1L1601.2 1803.7L1599.3 1811.3L1598.1 1818.7L1597.7 1825.7L1598.1 1832.3L1599.3 1838.4L1601.2 1843.8L1603.8 1848.4L1607.1 1852.2L1611 1855.1" fill="none" stroke="#111" stroke-width="1.0" stroke-linejoin="round" stroke-linecap="round"/>
<path d="M1688.2 1789.4L1688.1 1786.3L1687.8 1783.4L1687.2 1780.7L1686.3 1778.1L1685.3 1775.8L1684 1773.7L1682.6 1771.9L1680.9 1770.4L1679 1769.1L1677 1768.1L1674.9 1767.5L1672.5 1767.1L1670.1 1767L1667.6 1767.3L1665 1767.9L1662.3 1768.7L1659.6 1769.9L1656.9 1771.3L1654.1 1773L1651.4 1775L1648.7 1777.2L1646.1 1779.7L1643.6 1782.4L1641.2 1785.2L1638.9 1788.2L1636.7 1791.4L1634.7 1794.7L1632.8 1798.1L1631.2 1801.6L1629.7 1805.1L1628.4 1808.6L1627.4 1812.2L1626.6 1815.6L1626 1819.1L1625.6 1822.4L1625.5 1825.6L1625.6 1828.7L1626 1831.7L1626.6 1834.4L1627.4 1836.9L1628.4 1839.3L1629.7 1841.3L1631.2 1843.1L1632.8 1844.7L1634.7 1846L1636.7 1846.9L1638.9 1847.6L1641.2 1848L1643.6 1848L1646.1 1847.8L1648.7 1847.2L1651.4 1846.3L1654.1 1845.2L1656.9 1843.8L1659.6 1842L1662.3 1840.1L1665 1837.8L1667.6 1835.4L1670.1 1832.7L1672.5 1829.8L1674.9 1826.8L1677 1823.6L1679 1820.3L1680.9 1816.9L1682.6 1813.5L1684 1810L1685.3 1806.4L1686.3 1802.9L1687.2 1799.4L1687.8 1796L1688.1 1792.6L1688.2 1789.4Z" fill="#2c2c2c" stroke="#111" stroke-width="1.1" stroke-linejoin="round"/>
</g>
<g id="v1">
<path class="h" clip-path="url(#cSUL)" d="M700 251.3L760 191.3M700 273.3L760 213.3M700 295.3L760 235.3M700 317.3L760 257.3M700 339.3L760 279.3M700 361.3L760 301.3M700 383.3L760 323.3M700 405.3L760 345.3M700 427.3L760 367.3M700 449.3L760 389.3M700 471.3L760 411.3M700 493.3L760 433.3"/>
<path class="h" clip-path="url(#cSUR)" d="M870 259.4L930 199.4M870 281.8L930 221.8M870 304.2L930 244.2M870 326.6L930 266.6M870 349L930 289M870 371.4L930 311.4M870 393.8L930 333.8M870 416.2L930 356.2M870 438.6L930 378.6M870 461L930 401M870 483.4L930 423.4"/>
<path class="h" clip-path="url(#cSLO)" d="M700 560.85L930 330.85M700 582.95L930 352.95M700 605.05L930 375.05M700 627.15L930 397.15M700 649.25L930 419.25M700 671.35L930 441.35M700 693.45L930 463.45M700 715.55L930 485.55M700 737.65L930 507.65M700 759.75L930 529.75M700 781.85L930 551.85M700 803.95L930 573.95M700 826.05L930 596.05M700 848.15L930 618.15"/>
<path class="h" clip-path="url(#cSCR)" d="M725 434.8L900 609.8M725 412.5L900 587.5M725 390.2L900 565.2M725 367.9L900 542.9M725 345.6L900 520.6M725 323.3L900 498.3M725 301L900 476M725 278.7L900 453.7M725 256.4L900 431.4M725 234.1L900 409.1M725 211.8L900 386.8M725 189.5L900 364.5M725 167.2L900 342.2M725 144.9L900 319.9M725 122.6L900 297.6M725 100.3L900 275.3M725 78L900 253M725 55.7L900 230.7"/>
<path class="h" clip-path="url(#cSH)" d="M655 564.65L950 859.65M655 542.5L950 837.5M655 520.35L950 815.35M655 498.2L950 793.2M655 476.05L950 771.05M655 453.9L950 748.9M655 431.75L950 726.75M655 409.6L950 704.6M655 387.45L950 682.45M655 365.3L950 660.3M655 343.15L950 638.15M655 321L950 616M655 298.85L950 593.85M655 276.7L950 571.7M655 254.55L950 549.55M655 232.4L950 527.4M655 210.25L950 505.25M655 188.1L950 483.1M655 165.95L950 460.95M655 143.8L950 438.8"/>
<path class="m" clip-path="url(#cWIN)" d="M733.5 376.25 L733.67 376.51 L734.18 376.77 L735.02 377.02 L736.19 377.28 L737.69 377.54 L739.51 377.8 L741.65 378.05 L744.08 378.31 L746.81 378.57 L749.83 378.83 L753.1 379.09 L756.64 379.34 L760.41 379.6 L764.41 379.86 L768.61 380.12 L773 380.38 L777.56 380.63 L782.27 380.89 L787.11 381.15 L792.05 381.41 L797.09 381.66 L802.19 381.92 L807.33 382.18 L812.5 382.44 L817.67 382.7 L822.81 382.95 L827.91 383.21 L832.95 383.47 L837.89 383.73 L842.73 383.98 L847.44 384.24 L852 384.5 L856.39 384.76 L860.59 385.02 L864.59 385.27 L868.36 385.53 L871.9 385.79 L875.17 386.05 L878.19 386.3 L880.92 386.56 L883.35 386.82 L885.49 387.08 L887.31 387.34 L888.81 387.59 L889.98 387.85 L890.82 388.11 L891.33 388.37 L891.5 388.62M733.5 401 L733.67 401.26 L734.18 401.52 L735.02 401.77 L736.19 402.03 L737.69 402.29 L739.51 402.55 L741.65 402.8 L744.08 403.06 L746.81 403.32 L749.83 403.58 L753.1 403.84 L756.64 404.09 L760.41 404.35 L764.41 404.61 L768.61 404.87 L773 405.12 L777.56 405.38 L782.27 405.64 L787.11 405.9 L792.05 406.16 L797.09 406.41 L802.19 406.67 L807.33 406.93 L812.5 407.19 L817.67 407.45 L822.81 407.7 L827.91 407.96 L832.95 408.22 L837.89 408.48 L842.73 408.73 L847.44 408.99 L852 409.25 L856.39 409.51 L860.59 409.77 L864.59 410.02 L868.36 410.28 L871.9 410.54 L875.17 410.8 L878.19 411.05 L880.92 411.31 L883.35 411.57 L885.49 411.83 L887.31 412.09 L888.81 412.34 L889.98 412.6 L890.82 412.86 L891.33 413.12 L891.5 413.38M733.5 425.75 L733.67 426.01 L734.18 426.27 L735.02 426.52 L736.19 426.78 L737.69 427.04 L739.51 427.3 L741.65 427.55 L744.08 427.81 L746.81 428.07 L749.83 428.33 L753.1 428.59 L756.64 428.84 L760.41 429.1 L764.41 429.36 L768.61 429.62 L773 429.88 L777.56 430.13 L782.27 430.39 L787.11 430.65 L792.05 430.91 L797.09 431.16 L802.19 431.42 L807.33 431.68 L812.5 431.94 L817.67 432.2 L822.81 432.45 L827.91 432.71 L832.95 432.97 L837.89 433.23 L842.73 433.48 L847.44 433.74 L852 434 L856.39 434.26 L860.59 434.52 L864.59 434.77 L868.36 435.03 L871.9 435.29 L875.17 435.55 L878.19 435.8 L880.92 436.06 L883.35 436.32 L885.49 436.58 L887.31 436.84 L888.81 437.09 L889.98 437.35 L890.82 437.61 L891.33 437.87 L891.5 438.12M733.5 450.5 L733.67 450.76 L734.18 451.02 L735.02 451.27 L736.19 451.53 L737.69 451.79 L739.51 452.05 L741.65 452.3 L744.08 452.56 L746.81 452.82 L749.83 453.08 L753.1 453.34 L756.64 453.59 L760.41 453.85 L764.41 454.11 L768.61 454.37 L773 454.62 L777.56 454.88 L782.27 455.14 L787.11 455.4 L792.05 455.66 L797.09 455.91 L802.19 456.17 L807.33 456.43 L812.5 456.69 L817.67 456.95 L822.81 457.2 L827.91 457.46 L832.95 457.72 L837.89 457.98 L842.73 458.23 L847.44 458.49 L852 458.75 L856.39 459.01 L860.59 459.27 L864.59 459.52 L868.36 459.78 L871.9 460.04 L875.17 460.3 L878.19 460.55 L880.92 460.81 L883.35 461.07 L885.49 461.33 L887.31 461.59 L888.81 461.84 L889.98 462.1 L890.82 462.36 L891.33 462.62 L891.5 462.88M746.5 363.9 L746.64 364.16 L747.06 364.42 L747.77 364.67 L748.75 364.93 L750 365.19 L751.52 365.45 L753.31 365.7 L755.34 365.96 L757.62 366.22 L760.14 366.48 L762.88 366.74 L765.83 366.99 L768.98 367.25 L772.32 367.51 L775.83 367.77 L779.5 368.02 L783.31 368.28 L787.24 368.54 L791.28 368.8 L795.42 369.06 L799.62 369.31 L803.89 369.57 L808.18 369.83 L812.5 370.09 L816.82 370.35 L821.11 370.6 L825.38 370.86 L829.58 371.12 L833.72 371.38 L837.76 371.63 L841.69 371.89 L845.5 372.15 L849.17 372.41 L852.68 372.67 L856.02 372.92 L859.17 373.18 L862.12 373.44 L864.86 373.7 L867.38 373.95 L869.66 374.21 L871.69 374.47 L873.48 374.73 L875 374.99 L876.25 375.24 L877.23 375.5 L877.94 375.76 L878.36 376.02 L878.5 376.27M746.5 388.65 L746.64 388.91 L747.06 389.17 L747.77 389.42 L748.75 389.68 L750 389.94 L751.52 390.2 L753.31 390.45 L755.34 390.71 L757.62 390.97 L760.14 391.23 L762.88 391.49 L765.83 391.74 L768.98 392 L772.32 392.26 L775.83 392.52 L779.5 392.77 L783.31 393.03 L787.24 393.29 L791.28 393.55 L795.42 393.81 L799.62 394.06 L803.89 394.32 L808.18 394.58 L812.5 394.84 L816.82 395.1 L821.11 395.35 L825.38 395.61 L829.58 395.87 L833.72 396.13 L837.76 396.38 L841.69 396.64 L845.5 396.9 L849.17 397.16 L852.68 397.42 L856.02 397.67 L859.17 397.93 L862.12 398.19 L864.86 398.45 L867.38 398.7 L869.66 398.96 L871.69 399.22 L873.48 399.48 L875 399.74 L876.25 399.99 L877.23 400.25 L877.94 400.51 L878.36 400.77 L878.5 401.02M746.5 413.4 L746.64 413.66 L747.06 413.92 L747.77 414.17 L748.75 414.43 L750 414.69 L751.52 414.95 L753.31 415.2 L755.34 415.46 L757.62 415.72 L760.14 415.98 L762.88 416.24 L765.83 416.49 L768.98 416.75 L772.32 417.01 L775.83 417.27 L779.5 417.52 L783.31 417.78 L787.24 418.04 L791.28 418.3 L795.42 418.56 L799.62 418.81 L803.89 419.07 L808.18 419.33 L812.5 419.59 L816.82 419.85 L821.11 420.1 L825.38 420.36 L829.58 420.62 L833.72 420.88 L837.76 421.13 L841.69 421.39 L845.5 421.65 L849.17 421.91 L852.68 422.17 L856.02 422.42 L859.17 422.68 L862.12 422.94 L864.86 423.2 L867.38 423.45 L869.66 423.71 L871.69 423.97 L873.48 424.23 L875 424.49 L876.25 424.74 L877.23 425 L877.94 425.26 L878.36 425.52 L878.5 425.77M746.5 438.15 L746.64 438.41 L747.06 438.67 L747.77 438.92 L748.75 439.18 L750 439.44 L751.52 439.7 L753.31 439.95 L755.34 440.21 L757.62 440.47 L760.14 440.73 L762.88 440.99 L765.83 441.24 L768.98 441.5 L772.32 441.76 L775.83 442.02 L779.5 442.27 L783.31 442.53 L787.24 442.79 L791.28 443.05 L795.42 443.31 L799.62 443.56 L803.89 443.82 L808.18 444.08 L812.5 444.34 L816.82 444.6 L821.11 444.85 L825.38 445.11 L829.58 445.37 L833.72 445.63 L837.76 445.88 L841.69 446.14 L845.5 446.4 L849.17 446.66 L852.68 446.92 L856.02 447.17 L859.17 447.43 L862.12 447.69 L864.86 447.95 L867.38 448.2 L869.66 448.46 L871.69 448.72 L873.48 448.98 L875 449.24 L876.25 449.49 L877.23 449.75 L877.94 450.01 L878.36 450.27 L878.5 450.52"/>
<path class="m" d="M757.6 440.6L755.2 448.3"/>
<path class="m" d="M882.5 428.8 L885.8 434.4 L861 448"/>
<path class="k" d="M710.2 428.15 L715.12 433.32 L720.03 437.97 L724.95 442.18 L729.86 445.99 L734.78 449.45 L739.69 452.6 L744.61 455.45 L749.52 458.03 L754.44 460.35 L759.35 462.43 L764.26 464.29 L769.18 465.92 L774.1 467.35 L779.01 468.57 L783.92 469.6 L788.84 470.43 L793.75 471.08 L798.67 471.53 L803.59 471.81 L808.5 471.9 L813.41 471.81 L818.33 471.53 L823.25 471.08 L828.16 470.43 L833.08 469.6 L837.99 468.57 L842.9 467.35 L847.82 465.92 L852.74 464.29 L857.65 462.43 L862.56 460.35 L867.48 458.03 L872.39 455.45 L877.31 452.6 L882.22 449.45 L887.14 445.99 L892.05 442.18 L896.97 437.97 L901.88 433.32 L906.8 428.15"/>
<path class="m" d="M713 429.33 L717.73 432.32 L722.45 435.09 L727.17 437.67 L731.9 440.06 L736.62 442.28 L741.35 444.32 L746.08 446.2 L750.8 447.92 L755.52 449.49 L760.25 450.91 L764.98 452.18 L769.7 453.31 L774.42 454.3 L779.15 455.16 L783.88 455.88 L788.6 456.46 L793.33 456.92 L798.05 457.24 L802.77 457.44 L807.5 457.5 L812.23 457.44 L816.95 457.24 L821.67 456.92 L826.4 456.46 L831.12 455.88 L835.85 455.16 L840.58 454.3 L845.3 453.31 L850.02 452.18 L854.75 450.91 L859.48 449.49 L864.2 447.92 L868.92 446.2 L873.65 444.32 L878.38 442.28 L883.1 440.06 L887.83 437.67 L892.55 435.09 L897.27 432.32 L902 429.33"/>
<path class="k" d="M354.2 413.4 L433.7 334 L443.3 334 L453.3 344.8 L453.3 640.8 L443.3 651.6 L433.7 651.6 L354.2 572.2Z"/>
<path class="k" d="M354.2 446.5 L357.51 441.02 L360.82 435.88 L364.14 430.99 L367.45 426.29 L370.76 421.75 L374.07 417.33 L377.39 413.03 L380.7 408.81 L384.01 404.67 L387.32 400.6 L390.64 396.58 L393.95 392.62 L397.26 388.7 L400.57 384.82 L403.89 380.98 L407.2 377.17 L410.51 373.39 L413.82 369.64 L417.14 365.92 L420.45 362.21 L423.76 358.53 L427.07 354.86 L430.39 351.21 L433.7 347.58 L443.3 347.8 L453.3 359.2"/>
<path class="k" d="M433.7 334L433.7 347.8"/>
<path class="k" d="M443.3 334L443.3 347.8"/>
<path class="k" d="M354.2 539.1 L357.51 544.58 L360.82 549.72 L364.14 554.61 L367.45 559.31 L370.76 563.85 L374.07 568.27 L377.39 572.57 L380.7 576.79 L384.01 580.93 L387.32 585 L390.64 589.02 L393.95 592.98 L397.26 596.9 L400.57 600.78 L403.89 604.62 L407.2 608.43 L410.51 612.21 L413.82 615.96 L417.14 619.68 L420.45 623.39 L423.76 627.07 L427.07 630.74 L430.39 634.39 L433.7 638.02 L443.3 637.8 L453.3 626.4"/>
<path class="k" d="M433.7 651.6L433.7 637.8"/>
<path class="k" d="M443.3 651.6L443.3 637.8"/>
<path class="k" d="M453.3 423.9 L474.2 423.9 L474.2 561.7 L453.3 561.7"/>
<path class="k" d="M453.3 467.2L474.2 467.2"/>
<path class="k" d="M453.3 518.4L474.2 518.4"/>
<path class="k" d="M474.2 428.5 L533 428.5 C536.5 428.1 539 423.9 543 423.9 L560.5 423.9 C564.5 423.9 568 428.1 571.7 428.5 L672.3 428.5"/>
<path class="k" d="M474.2 556.7 L533 556.7 C536.5 557.1 539 561.3 543 561.3 L560.5 561.3 C564.5 561.3 568 557.1 571.7 556.7 L663.2 556.7"/>
<path class="k" d="M533 428.5L533 556.7"/>
<path class="k" d="M571.7 428.5L571.7 556.7"/>
<path class="g" d="M552 423.9L552 561.3"/>
<path class="k" d="M672.3 428.5L710.2 428.5"/>
<path class="k" d="M906.8 428.5L986.9 428.5"/>
<path class="k" d="M663.2 556.7L986.9 556.7"/>
<path class="t" d="M672.3 428.5 L674.6 440 L675.5 452 L674.6 476 L672.4 493 L669.8 510 L666.7 526 L664.4 542 L663.2 556.7"/>
<path class="t" d="M932.7 428.5 L929.4 438 L927.7 450 L928 464 L929.8 479 L933 498 L936.5 514 L939.3 530 L940.5 545 L940.2 556.7"/>
<path class="k" d="M986.9 428.5 L1006.7 448.4 L1006.7 537.1 L986.9 556.7"/>
<path class="k" d="M986.9 428.5L986.9 556.7"/>
<path class="k" d="M704.2 428.5 L704.2 265.7 L714.2 255.8 L737.25 255.8"/>
<path class="k" d="M921.7 428.5 L921.7 265.9 L912 256 L882.7 256"/>
<path class="k" d="M704.2 556.7 L704.2 602.3 L714.2 611.1 L911.9 611.1 L921.7 602.3 L921.7 556.7"/>
<path class="k2" d="M744.3 236.2 L744.6 239.8 L747.2 240.6 L733.75 252.5 L746.9 264.9 L733.75 277.25 L746.9 289.65 L733.75 302 L746.9 314.4 L733.75 326.75 L746.9 339.15 L733.75 351.5 L746.9 363.9 L733.75 376.25 L746.9 388.65 L733.75 401 L746.9 413.4 L733.75 425.75 L736.6 428.5"/>
<path class="k2" d="M887.5 236.2 L892.5 240.6 L879 252.5 L892.5 265.35 L879 277.25 L892.5 290.1 L879 302 L892.5 314.85 L879 326.75 L892.5 339.6 L879 351.5 L892.5 364.35 L879 376.25 L892.5 389.1 L879 401 L892.5 413.85 L879 425.75 L881.6 428.5"/>
<path class="k" d="M744.3 236.2L887.5 236.2"/>
<path class="k" d="M750.4 236.2 L750.4 334.7 L876.2 334.7 L876.2 236.2"/>
<path class="k" d="M781.2 236.2L781.2 334.7"/>
<path class="k" d="M844.2 236.2L844.2 334.7"/>
<path class="k" d="M733.75 351.5 L811 430.6"/>
<path class="k" d="M892.5 364.35 L872.5 372.6 L814.5 430.6"/>
</g>
<g id="cl">
<path class="c" d="M335.4 492.8L477.3 492.8M488.8 492.8L501.1 492.8M513.9 492.8L665 492.8M676.6 492.8L689.6 492.8M701.6 492.8L851.9 492.8M863.4 492.8L877 492.8M888.5 492.8L1031 492.8"/>
<path class="c" d="M812.5 220L812.5 313.3M812.5 325L812.5 337M812.5 350L812.5 500.5M812.5 513.3L812.5 525.8M812.5 538.3L812.5 632"/>
<path class="c" d="M338.75 1126.2L442.5 1126.2M455.5 1126.2L468.75 1126.2M481.25 1126.2L631.25 1126.2M643.75 1126.2L656.25 1126.2M668.75 1126.2L773.1 1126.2M792.8 1126.2L832.4 1126.2M853.3 1126.2L917 1126.2M929 1126.2L941.7 1126.2M952 1126.2L1019.1 1126.2"/>
<path class="c" d="M812.4 998.3L812.4 1023.2M812.4 1036.4L812.4 1046M812.4 1060.9L812.4 1086.7M812.4 1107L812.4 1145.4M812.4 1165.7L812.4 1190.9M812.4 1206.5L812.4 1214.8M812.4 1228L812.4 1254.2"/>
</g>
<g id="v2">
<path class="k" d="M354.25 1062 L533 1062 C539 1058.4 545 1056.3 552.75 1056.3 C560.5 1056.3 566.5 1058.4 572.5 1062 L724.19 1062"/>
<path class="k" d="M354.25 1190.4 L533 1190.4 C539 1194 545 1196.1 552.75 1196.1 C560.5 1196.1 566.5 1194 572.5 1190.4 L724.19 1190.4"/>
<path class="k" d="M354.25 1062L354.25 1190.4"/>
<path class="t" d="M433.75 1062L433.75 1190.4"/>
<path class="k" d="M443.75 1062L443.75 1190.4"/>
<path class="t" d="M454.25 1062L454.25 1190.4"/>
<path class="k" d="M473.75 1062L473.75 1190.4"/>
<path class="k" d="M533 1062L533 1190.4"/>
<path class="k" d="M572.5 1062L572.5 1190.4"/>
<path class="g" d="M551.75 1056.4L551.75 1196"/>
<path class="k" d="M900.61 1062 L986.4 1062 L1006.3 1081.5 L1006.3 1170.1 L986.4 1190.4 L900.61 1190.4"/>
<path class="k" d="M986.4 1062L986.4 1190.4"/>
<circle class="k" cx="812.4" cy="1126.1" r="109.1"/>
<circle class="k" cx="812.4" cy="1126.1" r="98.6"/>
<circle class="k" cx="812.4" cy="1126.1" r="78.8"/>
<circle class="g2" cx="816.2" cy="1123.5" r="71.2"/>
<path class="k" d="M755.82 1161.23A71.2 71.2 0 0 1 876.58 1085.77"/>
<path class="t" d="M785.72 1052.8A79 79 0 0 1 881.86 1086"/>
<path class="k" d="M875.3 1126.1 L843.85 1180.57 L780.95 1180.57 L749.5 1126.1 L780.95 1071.63 L843.85 1071.63Z"/>
</g>
<g id="dim">
<path class="r" d="M453.3 90.4L453.3 734.7"/>
<path class="r" d="M907.75 90.4L907.75 428.5"/>
<path class="r" d="M453.3 100.6L907.75 100.6"/>
<path class="ra" transform="translate(453.3 100.6) rotate(180)" d="M0 0L-35.4 -5.8L-30.6 -1L-30.6 1L-35.4 5.8Z"/>
<path class="ra" transform="translate(907.75 100.6) rotate(0)" d="M0 0L-35.4 -5.8L-30.6 -1L-30.6 1L-35.4 5.8Z"/>
<path class="r" d="M453.3 169.7L812.5 169.7"/>
<path class="r" d="M812.5 160L812.5 219"/>
<path class="ra" transform="translate(453.3 169.7) rotate(180)" d="M0 0L-35.4 -5.8L-30.6 -1L-30.6 1L-35.4 5.8Z"/>
<path class="ra" transform="translate(812.5 169.7) rotate(0)" d="M0 0L-35.4 -5.8L-30.6 -1L-30.6 1L-35.4 5.8Z"/>
<path class="r" d="M453.3 236.9L710 236.9"/>
<path class="r" d="M710 227.4L710 428.5"/>
<path class="ra" transform="translate(453.3 236.9) rotate(180)" d="M0 0L-35.4 -5.8L-30.6 -1L-30.6 1L-35.4 5.8Z"/>
<path class="ra" transform="translate(710 236.9) rotate(0)" d="M0 0L-35.4 -5.8L-30.6 -1L-30.6 1L-35.4 5.8Z"/>
<path class="r" d="M229.8 334.5L433.7 334.5"/>
<path class="r" d="M229.8 651.1L433.7 651.1"/>
<path class="r" d="M239.9 334.5L239.9 651.1"/>
<path class="ra" transform="translate(239.9 334.5) rotate(-90)" d="M0 0L-35.4 -5.8L-30.6 -1L-30.6 1L-35.4 5.8Z"/>
<path class="ra" transform="translate(239.9 651.1) rotate(90)" d="M0 0L-35.4 -5.8L-30.6 -1L-30.6 1L-35.4 5.8Z"/>
<path class="r" d="M281 724.4L453.3 724.4"/>
<path class="r" d="M354.2 538.5L354.2 734.7"/>
<path class="ra" transform="translate(354.2 724.4) rotate(180)" d="M0 0L-35.4 -5.8L-30.6 -1L-30.6 1L-35.4 5.8Z"/>
<path class="ra" transform="translate(453.3 724.4) rotate(0)" d="M0 0L-35.4 -5.8L-30.6 -1L-30.6 1L-35.4 5.8Z"/>
<path class="r" d="M620.7 428.5L620.7 709.6"/>
<path class="r2" d="M610.8 428.5L672.3 428.5"/>
<path class="r2" d="M610.8 556.7L663.2 556.7"/>
<path class="ra" transform="translate(620.7 428.5) rotate(-90)" d="M0 0L-35.4 -5.8L-30.6 -1L-30.6 1L-35.4 5.8Z"/>
<path class="ra" transform="translate(620.7 556.7) rotate(90)" d="M0 0L-35.4 -5.8L-30.6 -1L-30.6 1L-35.4 5.8Z"/>
<path class="r" d="M911 256L1194.6 256"/>
<path class="r" d="M1084 256L1084 492.8"/>
<path class="r" d="M1031 492.8L1094.7 492.8"/>
<path class="ra" transform="translate(1084 256) rotate(-90)" d="M0 0L-35.4 -5.8L-30.6 -1L-30.6 1L-35.4 5.8Z"/>
<path class="ra" transform="translate(1084 492.8) rotate(90)" d="M0 0L-35.4 -5.8L-30.6 -1L-30.6 1L-35.4 5.8Z"/>
<path class="r" d="M1183.8 256L1183.8 611.1"/>
<path class="r" d="M911.9 611.1L1194.6 611.1"/>
<path class="ra" transform="translate(1183.8 256) rotate(-90)" d="M0 0L-35.4 -5.8L-30.6 -1L-30.6 1L-35.4 5.8Z"/>
<path class="ra" transform="translate(1183.8 611.1) rotate(90)" d="M0 0L-35.4 -5.8L-30.6 -1L-30.6 1L-35.4 5.8Z"/>
<path class="r" d="M354.25 932.4L354.25 1062"/>
<path class="r" d="M1005.8 932.4L1005.8 1081.5"/>
<path class="r" d="M354.25 941.4L1005.8 941.4"/>
<path class="ra" transform="translate(354.25 941.4) rotate(180)" d="M0 0L-35.4 -5.8L-30.6 -1L-30.6 1L-35.4 5.8Z"/>
<path class="ra" transform="translate(1005.8 941.4) rotate(0)" d="M0 0L-35.4 -5.8L-30.6 -1L-30.6 1L-35.4 5.8Z"/>
<path class="r" d="M626.2 1016.8 L703.2 1016.8 L916 1229.3"/>
<path class="ra" transform="translate(756.68 1070.38) rotate(45)" d="M0 0L-35.4 -5.8L-30.6 -1L-30.6 1L-35.4 5.8Z"/>
<path class="ra" transform="translate(868.12 1181.82) rotate(225)" d="M0 0L-35.4 -5.8L-30.6 -1L-30.6 1L-35.4 5.8Z"/>
<path class="r" d="M285.8 995.5L285.8 1257"/>
<path class="r" d="M275.8 1062L354.25 1062"/>
<path class="r" d="M275.8 1190.4L354.25 1190.4"/>
<path class="ra" transform="translate(285.8 1062) rotate(90)" d="M0 0L-35.4 -5.8L-30.6 -1L-30.6 1L-35.4 5.8Z"/>
<path class="ra" transform="translate(285.8 1190.4) rotate(-90)" d="M0 0L-35.4 -5.8L-30.6 -1L-30.6 1L-35.4 5.8Z"/>
<path class="r" d="M812.4 1017L1115 1017"/>
<path class="r" d="M812.4 1235.2L1115 1235.2"/>
<path class="r" d="M1105 1017L1105 1235.2"/>
<path class="ra" transform="translate(1105 1017) rotate(-90)" d="M0 0L-35.4 -5.8L-30.6 -1L-30.6 1L-35.4 5.8Z"/>
<path class="ra" transform="translate(1105 1235.2) rotate(90)" d="M0 0L-35.4 -5.8L-30.6 -1L-30.6 1L-35.4 5.8Z"/>
<path class="r" d="M781.1 1180.4L870.2 1333.75"/>
<path class="r" d="M875.3 1126.3L964 1279.2"/>
<path class="r" d="M778.5 1374.8L958.75 1270.2"/>
<path class="ra" transform="translate(865 1323.9) rotate(150)" d="M0 0L-35.4 -5.8L-30.6 -1L-30.6 1L-35.4 5.8Z"/>
<path class="ra" transform="translate(958.75 1270.2) rotate(-30)" d="M0 0L-35.4 -5.8L-30.6 -1L-30.6 1L-35.4 5.8Z"/>
</g>
<g id="txt">
<text class="tx" transform="translate(659 89.5) rotate(0) skewX(-15) scale(0.72 1)" x="0 32.36" y="0">23</text>
<text class="tx" clip-path="url(#cT1)" transform="translate(609.3 158.2) rotate(0) skewX(-15) scale(0.72 1)" x="-12.78 10.42 40.97 53.89" y="0">18,2</text>
<text class="tx" clip-path="url(#cT2)" transform="translate(574.3 225.4) rotate(0) skewX(-15) scale(0.72 1)" x="-12.78 7.64" y="0">13</text>
<text class="tx" clip-path="url(#cT3)" transform="translate(227.9 501.5) rotate(-90) skewX(-15) scale(0.72 1)" x="-12.78 9.03" y="0">16</text>
<text class="tx" transform="translate(296.5 713.2) rotate(0) skewX(-15) scale(0.72 1)" x="0" y="0">5</text>
<text class="tx" clip-path="url(#cT4)" transform="translate(1071.8 383.4) rotate(-90) skewX(-15) scale(0.72 1)" x="-12.78 13.19" y="0">12</text>
<text class="tx" clip-path="url(#cT5)" transform="translate(1171.4 441.6) rotate(-90) skewX(-15) scale(0.72 1)" x="-12.78 10.42" y="0">18</text>
<text class="tx" transform="translate(608 645) rotate(-90) skewX(-15) scale(0.72 1)" x="0 31.25 44.17" y="0">6,5</text>
<text class="tx" transform="translate(660 930.2) rotate(0) skewX(-15) scale(0.72 1)" x="0 29.17" y="0">33</text>
<text class="tx" transform="translate(640 1005.2) rotate(0) skewX(-15) scale(0.72 1)" x="0 37.5" y="0">M8</text>
<text class="tx" transform="translate(273.5 1152.5) rotate(-90) skewX(-15) scale(0.72 1)" x="0 31.25 44.17" y="0">6,5</text>
<text class="tx" clip-path="url(#cT6)" transform="translate(1092.8 1106.2) rotate(-90) skewX(-15) scale(0.72 1)" x="-12.78 8.06" y="0">11</text>
<text class="tx" transform="translate(784.5 1356) rotate(-30.5) skewX(-15) scale(0.72 1)" x="0 28.47 41.39" y="0">5,5</text>
<text class="ph" transform="translate(609.2 661.6) rotate(-114)" x="0" y="0" text-anchor="middle">⌀</text>
<text class="ph" transform="translate(1093.7 1132.9) rotate(-114)" x="0" y="0" text-anchor="middle">⌀</text>
</g>
</svg>
</body></html>
